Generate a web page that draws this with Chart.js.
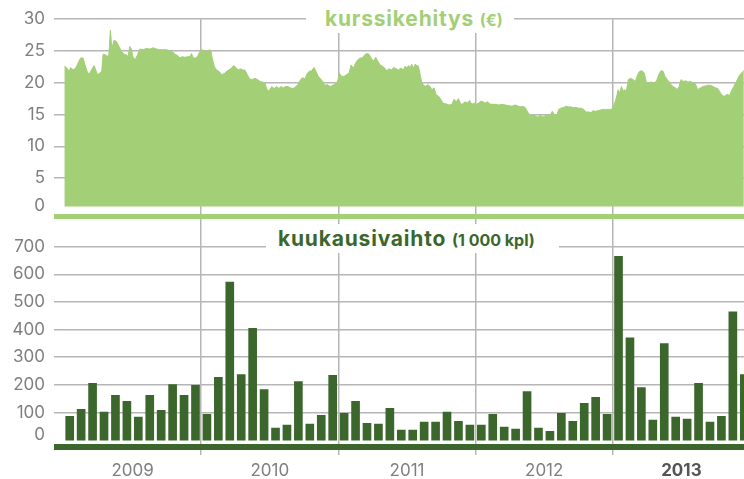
<!DOCTYPE html>
<html>
<head>
<meta charset="utf-8">
<script src="https://cdn.jsdelivr.net/npm/chart.js@4.4.1/dist/chart.umd.min.js"></script>
<style>
body{margin:0;overflow:hidden;background:#fff}
#wrap{position:relative;width:750px;height:479px}
.ttl{position:absolute;background:#fff;font-family:Inter,sans-serif;font-weight:700;white-space:nowrap;line-height:1;box-sizing:border-box;letter-spacing:.8px;font-size:21px}
.ttl small{font-size:16px;letter-spacing:0}
#t1{left:306px;top:0;width:208px;height:33px;padding:8px 0 0 19px;color:#a3cf76}
#t2{left:266px;top:224px;width:293px;height:29px;padding:4px 0 0 12px;color:#3b672c}
</style>
</head>
<body>
<div id="wrap">
<canvas id="chart"></canvas>
<div class="ttl" id="t1">kurssikehitys <small>(€)</small></div>
<div class="ttl" id="t2">kuukausivaihto <small>(1 000 kpl)</small></div>
</div>
<script>
// data
const years = ['2009', '2010', '2011', '2012', '2013']
const priceTicks = [0, 5, 10, 15, 20, 25, 30]
const volumeTicks = [0, 100, 200, 300, 400, 500, 600, 700]

// monthly volume, 1 000 kpl (jan 2009 .. dec 2013)
const volume = [
  86, 111, 205, 101, 162, 140, 83, 162, 108, 201, 162, 198,
  93, 227, 572, 237, 405, 183, 43, 54, 212, 58, 90, 234,
  97, 140, 61, 58, 115, 36, 36, 65, 65, 101, 68, 54,
  54, 93, 47, 40, 176, 43, 32, 97, 68, 133, 155, 93,
  665, 370, 190, 72, 349, 83, 76, 205, 65, 86, 464, 237
]

// share price, [months since jan 2009, euro]
const pricePoints = [
  [0.03,22.6],[0.21,22.4],[0.44,21.8],[0.59,22.4],[0.79,22.0],[1.02,22.3],[1.23,23.1],[1.46,23.9],[1.67,23.9],[1.84,22.8],
  [2.02,21.8],[2.19,21.3],[2.40,22.0],[2.63,22.7],[2.78,22.0],[2.92,21.3],[3.13,21.5],[3.30,21.8],[3.42,24.5],[3.71,24.3],
  [3.91,24.1],[4.06,28.3],[4.18,25.4],[4.38,26.7],[4.59,26.5],[4.82,25.7],[5.02,24.9],[5.26,24.5],[5.46,24.4],[5.61,24.1],
  [5.75,25.7],[5.87,25.4],[6.02,24.1],[6.22,23.6],[6.43,24.4],[6.63,25.3],[6.92,25.2],[7.21,25.4],[7.50,25.3],[7.80,25.5],
  [8.09,25.3],[8.38,25.2],[8.67,25.2],[8.96,25.2],[9.26,25.0],[9.55,24.8],
  [9.69,24.5],[9.93,24.3],[10.13,23.9],[10.34,24.1],[10.57,24.0],[10.80,24.1],[11.01,24.1],[11.15,24.6],[11.30,23.9],[11.50,23.9],
  [11.68,24.1],[11.88,24.9],[12.09,25.2],[12.32,25.0],[12.52,24.9],[12.70,25.2],[12.85,25.0],[12.96,23.9],[13.14,22.6],[13.34,22.0],
  [13.55,21.8],[13.78,21.3],[14.01,21.4],[14.22,21.8],[14.42,22.0],[14.66,22.3],[14.83,22.7],[15.04,22.4],[15.24,22.0],[15.44,22.2],
  [15.65,22.0],[15.82,22.0],[16.03,21.3],[16.23,20.6],[16.47,20.5],[16.70,20.7],[16.93,20.5],[17.14,20.2],[17.34,20.1],[17.57,20.0],
  [17.75,18.9],[17.95,18.7],[18.16,19.4],[18.39,19.1],[18.60,19.4],[18.80,19.1],[18.98,19.4],[19.18,19.2],[19.38,19.4],[19.62,19.4],
  [19.76,19.2],[20.06,19.1],[20.29,19.4],[20.49,19.8],[20.70,20.5],[20.87,20.8],[21.08,20.6],[21.28,21.5],[21.46,21.8],[21.66,21.9],
  [21.87,22.4],[22.04,21.8],[22.24,21.0],[22.45,20.6],[22.62,20.2],[22.83,19.6],[23.03,19.7],[23.27,19.4],[23.50,19.6],[23.70,19.8],
  [23.91,20.0],[24.08,21.5],[24.29,21.0],[24.49,21.0],[24.73,21.3],[24.93,21.5],[25.11,22.8],[25.31,22.3],[25.51,23.1],[25.69,23.6],
  [25.89,23.9],[26.10,23.9],[26.30,24.4],[26.48,24.6],[26.68,24.5],[26.86,23.9],[27.06,23.4],[27.27,24.0],[27.47,23.3],[27.64,22.8],
  [27.85,22.6],[28.05,22.3],[28.23,21.9],[28.43,22.2],[28.64,22.0],[28.84,22.4],[29.04,22.2],[29.25,22.0],[29.46,22.3],[29.69,22.0],
  [29.83,22.6],[29.98,22.3],[30.13,22.7],[30.27,22.4],[30.42,22.9],[30.56,22.3],[30.71,22.9],[30.86,22.7],[31.00,22.6],[31.15,21.3],
  [31.29,20.0],[31.44,19.7],[31.58,19.4],[31.82,19.7],[32.02,19.4],[32.17,18.9],[32.37,19.2],[32.55,18.1],[32.75,17.9],[32.96,17.4],
  [33.13,16.8],[33.34,16.7],[33.54,16.6],[33.72,16.5],[33.92,16.6],[34.12,17.4],[34.30,17.0],[34.50,17.5],[34.71,16.6],[34.88,16.7],
  [35.09,17.0],[35.29,16.8],[35.47,17.2],[35.67,16.6],[35.88,16.8],[36.05,16.6],[36.26,16.8],[36.46,17.1],[36.64,17.0],[36.84,16.8],
  [37.04,17.0],[37.22,16.7],[37.42,16.6],[37.71,16.6],[38.01,16.5],[38.30,16.6],[38.59,16.5],[38.88,16.4],[39.18,16.3],[39.47,16.5],
  [39.76,16.3],[39.90,16.2],[40.14,16.3],[40.34,16.1],[40.55,15.4],[40.78,14.8],[41.01,14.9],[41.22,14.8],[41.42,14.6],[41.66,14.9],
  [41.89,14.6],[42.09,14.8],[42.30,14.9],[42.53,14.9],[42.71,15.5],[42.91,14.9],[43.11,14.9],[43.26,15.8],[43.46,16.0],[43.70,16.1],
  [43.93,16.3],[44.14,16.2],[44.34,16.2],[44.57,16.1],[44.81,16.1],[45.01,16.0],[45.22,16.0],[45.45,15.8],[45.68,15.4],[45.89,15.4],
  [46.09,15.3],[46.27,15.6],[46.47,15.5],[46.68,15.6],[46.91,15.7],[47.14,15.8],[47.35,15.8],[47.55,15.8],[47.78,15.8],[47.96,15.9],
  [48.16,16.8],[48.31,17.6],[48.46,18.9],[48.60,18.4],[48.75,19.4],[48.89,18.7],[49.04,18.9],[49.19,18.7],[49.36,20.5],[49.54,20.7],
  [49.77,20.5],[49.97,20.2],[50.18,21.3],[50.35,21.8],[50.56,21.9],[50.76,21.5],[50.94,20.0],[51.14,20.0],[51.35,20.1],[51.58,20.0],
  [51.81,20.2],[52.02,21.3],[52.22,21.9],[52.40,21.8],[52.57,21.0],[52.75,20.5],[52.92,20.2],[53.10,19.7],[53.27,19.4],[53.48,19.2],
  [53.62,18.9],[53.80,19.4],[53.97,20.5],[54.15,20.2],[54.35,20.3],[54.56,20.1],[54.79,20.2],[55.02,20.0],[55.23,19.8],[55.43,18.9],
  [55.67,19.2],[55.90,19.4],[56.10,19.5],[56.31,19.6],[56.54,19.6],[56.77,19.4],[56.98,19.2],[57.18,19.1],[57.42,18.4],[57.62,17.9],
  [57.82,17.9],[58.00,18.2],[58.21,18.0],[58.38,18.7],[58.58,19.4],[58.82,20.2],[59.02,21.0],[59.23,21.5],[59.46,21.9]
]

const lightGreen = '#a3cf76'
const darkGreen = '#3b672c'
const gridGray = '#b6b6b6'
const labelGray = '#7f7f7f'
const clear = 'rgba(0,0,0,0)'

// x ticks: year labels in the middle, separators at year change
const yearMid = years.map((y, i) => 6 + 12 * i)
const yearSep = years.slice(1).map((y, i) => 12 * (i + 1))

// each pane: a thick coloured rule under it, and the "0" label sits a bit above the baseline (no gridline there)
const paneTicks = (ticks, ruleAt, zeroAt) =>
  [{value: ruleAt}].concat(ticks.map(v => ({value: v === 0 ? zeroAt : v, label0: v === 0})))

new Chart(document.getElementById('chart'), {
  type: 'bar',
  data: {
    datasets: [
      {
        type: 'line',
        label: 'kurssikehitys',
        xAxisID: 'x',
        yAxisID: 'yP',
        data: pricePoints.map(p => ({x: p[0], y: p[1]})),
        backgroundColor: lightGreen,
        borderColor: lightGreen,
        borderWidth: 1,
        pointRadius: 0,
        tension: 0,
        fill: {value: 0.5}
      },
      {
        type: 'bar',
        label: 'kuukausivaihto',
        xAxisID: 'x',
        yAxisID: 'yV',
        data: volume.map((v, i) => ({x: i + 0.5, y: v})),
        backgroundColor: darkGreen,
        barThickness: 8
      }
    ]
  },
  options: {
    responsive: true,
    maintainAspectRatio: false,
    animation: false,
    layout: {padding: {top: 16, left: 0, right: 0, bottom: 0}},
    plugins: {legend: {display: false}, tooltip: {enabled: false}},
    scales: {
      x: {
        type: 'linear',
        position: 'bottom',
        min: 0,
        max: 60,
        offset: false,
        afterBuildTicks: s => { s.ticks = yearMid.concat(yearSep).sort((a, b) => a - b).map(v => ({value: v})) },
        afterFit: s => { s.height = 29 },
        grid: {
          offset: false,
          color: c => c.tick && c.tick.value % 12 === 0 ? gridGray : clear,
          lineWidth: 1.5,
          tickLength: 5
        },
        border: {display: false},
        ticks: {
          autoSkip: false,
          maxRotation: 0,
          padding: 6,
          callback: v => v % 12 === 6 ? years[(v - 6) / 12] : '',
          color: c => c.tick && c.tick.value === yearMid[yearMid.length - 1] ? '#555' : labelGray,
          font: c => ({family: 'Inter', size: 17, weight: c.tick && c.tick.value === yearMid[yearMid.length - 1] ? 'bold' : 'normal'})
        }
      },
      // top pane: price
      yP: {
        type: 'linear',
        position: 'left',
        stack: 'panes',
        stackWeight: 202,
        weight: 2,
        min: -1.56,
        max: 30,
        afterBuildTicks: s => { s.ticks = paneTicks(priceTicks, -1.125, 0.6) },
        afterFit: s => { s.width = 64 },
        grid: {
          color: c => !c.tick ? gridGray : c.tick.value < 0 ? lightGreen : c.tick.label0 ? clear : gridGray,
          lineWidth: c => c.tick && c.tick.value < 0 ? 5 : 1.5,
          tickLength: 10
        },
        border: {display: false},
        ticks: {
          autoSkip: false,
          padding: 9,
          color: labelGray,
          font: {family: 'Inter', size: 17},
          callback: (v, i, t) => t[i].label0 ? '0' : v < 0 ? '' : v
        }
      },
      // bottom pane: volume
      yV: {
        type: 'linear',
        position: 'left',
        stack: 'panes',
        stackWeight: 232,
        weight: 1,
        min: -36,
        max: 798,
        afterBuildTicks: s => { s.ticks = paneTicks(volumeTicks, -25, 17) },
        afterFit: s => { s.width = 64 },
        grid: {
          color: c => !c.tick ? gridGray : c.tick.value < 0 ? darkGreen : c.tick.label0 ? clear : gridGray,
          lineWidth: c => c.tick && c.tick.value < 0 ? 6 : 1.5,
          tickLength: 10
        },
        border: {display: false},
        ticks: {
          autoSkip: false,
          padding: 9,
          color: labelGray,
          font: {family: 'Inter', size: 17},
          callback: (v, i, t) => t[i].label0 ? '0' : v < 0 ? '' : v
        }
      }
    }
  }
})
</script>
</body>
</html>
